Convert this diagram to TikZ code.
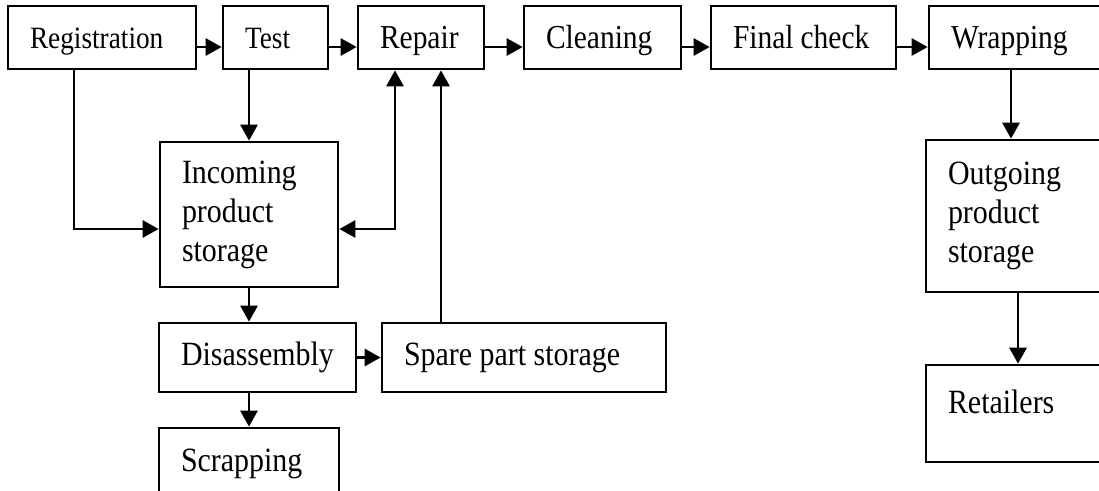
\documentclass[tikz,border=0pt]{standalone}
\usepackage{fontspec}
\setmainfont[FakeStretch=0.88]{Liberation Serif}
\usetikzlibrary{arrows.meta}
\tikzset{
  box/.style={draw, line width=2.7pt, inner xsep=22pt, inner ysep=0pt, align=left},
  rowtxt/.style={font=\fontsize{31}{37}\selectfont, text height=28pt, text depth=7pt,
    execute at begin node={\spaceskip=6.5pt plus 1pt minus 1pt\relax}},
  rowtxtl/.style={font=\fontsize{33.5}{39}\selectfont, text height=28pt, text depth=7pt,
    execute at begin node={\spaceskip=7pt plus 1pt minus 1pt\relax}},
  bigtxt/.style={font=\fontsize{34}{39}\selectfont,
    execute at begin node={\spaceskip=7.5pt plus 1pt minus 1pt\relax}},
  arr/.style={line width=2.9pt, -{Triangle[length=16pt,width=17pt]}},
  arrb/.style={line width=2.9pt, {Triangle[length=16pt,width=17pt]}-{Triangle[length=16pt,width=17pt]}}
}
\begin{document}
\begin{tikzpicture}[x=1pt,y=-1pt]
\useasboundingbox (0,0) rectangle (1099,490);
\clip (0,0) rectangle (1099,490);
% row 1
\node[box,rowtxt,minimum height=63pt,text width=144pt] (reg) at (102,37.5) {Registration};
\node[box,rowtxt,minimum height=63pt,text width=61pt] (test) at (275.5,37.5) {Test};
\node[box,rowtxtl,minimum height=63pt,text width=82pt] (rep) at (421,37.5) {Repair};
\node[box,rowtxtl,minimum height=63pt,text width=113pt] (clean) at (602.5,37.5) {Cleaning};
\node[box,rowtxtl,minimum height=63pt,text width=141pt] (fin) at (803.5,37.5) {Final check};
\node[box,rowtxtl,minimum height=63pt,text width=137pt] (wrap) at (1019.5,37.5) {Wrapping};
% left column
\node[box,bigtxt,minimum height=145pt,text width=134pt] (inc) at (249,214.5) {Incoming\\product\\storage};
\node[box,bigtxt,minimum height=69pt,text width=153pt] (dis) at (257.5,357.5) {Disassembly};
\node[box,bigtxt,minimum height=69pt,text width=240pt] (spare) at (524,357.5) {Spare part storage};
\node[box,bigtxt,minimum height=72pt,text width=136pt] (scr) at (249,464) {Scrapping};
% right column
\node[box,bigtxt,minimum height=152pt,text width=140pt] (out) at (1018,216) {Outgoing\\product\\storage};
\node[box,bigtxt,minimum height=97pt,text width=140pt,text depth=23pt] (ret) at (1018,413.5) {Retailers};
% connectors
\draw[arr] ([yshift=-9.5pt]reg.east) -- ([yshift=-9.5pt]test.west);
\draw[arr] ([yshift=-9.5pt]test.east) -- ([yshift=-9.5pt]rep.west);
\draw[arr] ([yshift=-9.5pt]rep.east) -- ([yshift=-9.5pt]clean.west);
\draw[arr] ([yshift=-9.5pt]clean.east) -- ([yshift=-9.5pt]fin.west);
\draw[arr] ([yshift=-9.5pt]fin.east) -- ([yshift=-9.5pt]wrap.west);
\draw[arr] (test.south -| inc.north) -- (inc.north);
\draw[arr] ([xshift=-28pt]reg.south) |- ([yshift=-14.5pt]inc.west);
\draw[arrb] ([yshift=-14.5pt]inc.east) -| ([xshift=-26pt]rep.south);
\draw[arr] ([xshift=20pt]rep.south |- spare.north) -- ([xshift=20pt]rep.south);
\draw[arr] (inc.south) -- (inc.south |- dis.north);
\draw[arr] (dis.south -| scr.north) -- (scr.north);
\draw[arr] (dis.east) -- (spare.west);
\draw[arr] ([xshift=-8.5pt]wrap.south) -- ([xshift=-8.5pt]wrap.south |- out.north);
\draw[arr] (out.south) -- (out.south |- ret.north);
\end{tikzpicture}
\end{document}
